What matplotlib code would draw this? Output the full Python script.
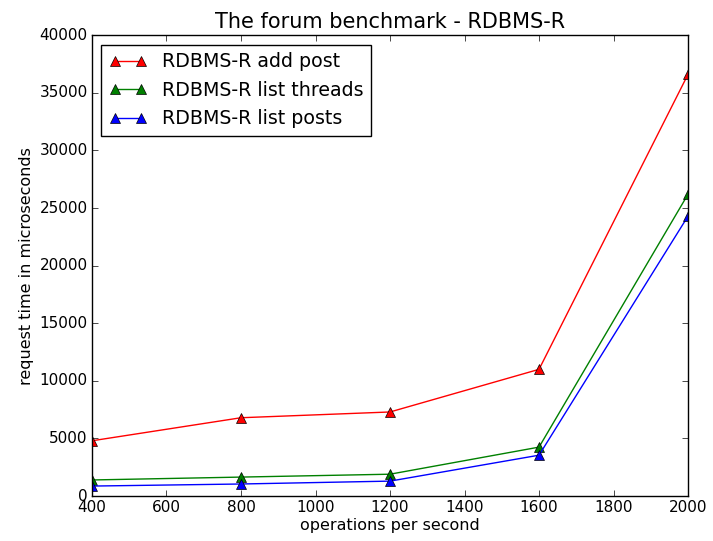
import matplotlib
matplotlib.use("Agg")
import matplotlib.pyplot as plt

plt.style.use("classic")
plt.rcParams['font.family'] = ['DejaVu Sans']

ops = [400, 800, 1200, 1600, 2000]
add_post = [4800, 6800, 7300, 11000, 36600]
list_threads = [1400, 1650, 1900, 4250, 26200]
list_posts = [870, 1050, 1300, 3550, 24300]

fig = plt.figure(figsize=(7.13, 5.41), dpi=100)
ax = fig.add_axes([0.129, 0.083, 0.836, 0.852])

ax.plot(ops, add_post, color='red', marker='^', markersize=7, label='RDBMS-R add post')
ax.plot(ops, list_threads, color='green', marker='^', markersize=7, label='RDBMS-R list threads')
ax.plot(ops, list_posts, color='blue', marker='^', markersize=7, label='RDBMS-R list posts')

ax.set_xlim(400, 2000)
ax.set_ylim(0, 40000)
ax.set_title('The forum benchmark - RDBMS-R', fontsize=15)
ax.set_xlabel('operations per second', fontsize=11.5, labelpad=2)
ax.set_ylabel('request time in microseconds', fontsize=11.5, labelpad=4)
ax.tick_params(labelsize=11, pad=3)
ax.legend(loc='upper left', fontsize=13.7, numpoints=2)

fig.savefig('out.png', dpi=100)
